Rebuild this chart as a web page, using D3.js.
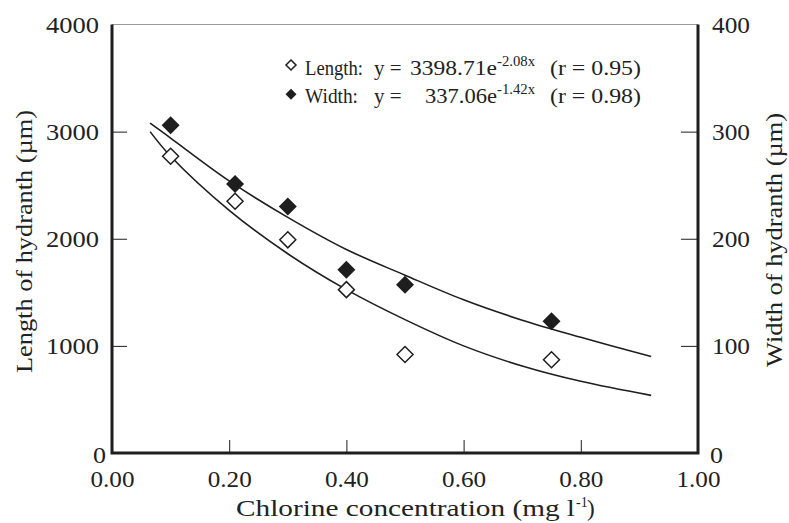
<!DOCTYPE html>
<html><head><meta charset="utf-8">
<script src="https://cdn.jsdelivr.net/npm/d3@7"></script>
</head><body style="margin:0;background:#fff"><svg id="c" width="789" height="523" style="display:block"></svg>
<script>
// ---- data ----
const concentration = [0.10, 0.21, 0.30, 0.40, 0.50, 0.75];
const lengthValues = [2770, 2350, 1990, 1525, 920, 870];   // µm, left axis
const widthValues  = [306, 251, 230, 171, 157, 123];       // µm, right axis
const fitX         = [0.065, 0.10, 0.20, 0.30, 0.40, 0.50, 0.60, 0.70, 0.80, 0.92];
const lengthFit    = [3000, 2770, 2265, 1860, 1525, 1245, 1000, 812, 669, 538];
const widthFit     = [308, 294, 254, 220, 190, 166, 143, 124, 108, 90];
const xTicks = [0, 0.2, 0.4, 0.6, 0.8, 1.0];
const xTickLabels = ["0.00", "0.20", "0.40", "0.60", "0.80", "1.00"];
const leftTicks = [0, 1000, 2000, 3000, 4000];
const rightTicks = [0, 100, 200, 300, 400];
const legendNames = ["Length:", "Width:"];
const legendCoefs = ["3398.71e", "337.06e"];
const legendExps  = ["-2.08x", "-1.42x"];
const legendR     = ["(r = 0.95)", "(r = 0.98)"];

// ---- layout ----
const FONT = "'Liberation Serif', 'Times New Roman', serif";
const svg = d3.select("#c");
const L = 112, R = 698, T = 24.5, B = 453;
const x = d3.scaleLinear().domain([0, 1]).range([L, R]);
const yL = d3.scaleLinear().domain([0, 4000]).range([B, T]);
const yR = d3.scaleLinear().domain([0, 400]).range([B, T]);
const ink = "#1e1e1e", txt = "#222";
const stretch = (sel, w) => sel.attr("textLength", w).attr("lengthAdjust", "spacingAndGlyphs");

// frame
svg.append("line").attr("x1", L).attr("x2", R).attr("y1", T).attr("y2", T).attr("stroke", "#9a9a9a").attr("stroke-width", 1);
svg.append("path").attr("d", `M${L},${T}V${B}H${R}V${T}`).attr("fill", "none").attr("stroke", ink).attr("stroke-width", 3);

// axes via d3 (ticks inward)
const gx = svg.append("g").attr("transform", `translate(0,${B})`)
  .call(d3.axisBottom(x).tickValues(xTicks).tickSize(-13).tickPadding(17).tickFormat((d, i) => xTickLabels[i]));
const gl = svg.append("g").attr("transform", `translate(${L},0)`)
  .call(d3.axisLeft(yL).tickValues(leftTicks).tickSize(-15).tickPadding(13).tickFormat(d3.format("d")));
const gr = svg.append("g").attr("transform", `translate(${R},0)`)
  .call(d3.axisRight(yR).tickValues(rightTicks).tickSize(-17).tickPadding(14).tickFormat(d3.format("d")));
[gx, gl, gr].forEach(g => {
  g.select(".domain").remove();
  g.selectAll(".tick line").attr("stroke", ink).attr("stroke-width", 1);
  g.selectAll(".tick text").attr("font-size", 24).attr("fill", txt).style("font-family", FONT)
    .each(function(d) { const s = this.textContent.length; stretch(d3.select(this), s === 4 ? (this.textContent.includes(".") ? 44 : 53) : s === 3 ? 38 : 13); });
});
gx.selectAll(".tick").filter(d => d === 0 || d === 1).select("line").remove();
gl.selectAll(".tick").filter(d => d === 0 || d === 4000).select("line").remove();
gr.selectAll(".tick").filter(d => d === 0 || d === 400).select("line").remove();
gl.selectAll(".tick").filter(d => d === 0).select("text").attr("x", -6).attr("dy", "0.4em");
gr.selectAll(".tick").filter(d => d === 0).select("text").attr("x", 12).attr("dy", "0.4em");
gx.selectAll(".tick text").attr("dy", "0.71em");

// axis titles
const addText = (xx, yy, s, size, anchor) => svg.append("text").attr("x", xx).attr("y", yy)
  .attr("font-size", size).attr("text-anchor", anchor || "start").attr("fill", txt).style("font-family", FONT).text(s);
stretch(svg.append("text").attr("transform", "translate(32,241.5) rotate(-90)").attr("text-anchor", "middle")
  .attr("font-size", 23).attr("fill", txt).style("font-family", FONT).text("Length of hydranth (µm)"), 263);
stretch(svg.append("text").attr("transform", "translate(782,240) rotate(-90)").attr("text-anchor", "middle")
  .attr("font-size", 23).attr("fill", txt).style("font-family", FONT).text("Width of hydranth (µm)"), 254);
stretch(addText(236, 516, "Chlorine concentration (mg l", 23), 339);
addText(576, 507, "-1", 14);
addText(587, 516, ")", 23);

// fit curves
const lineL = d3.line().x((d, i) => x(fitX[i])).y(d => yL(d)).curve(d3.curveCatmullRom);
const lineR = d3.line().x((d, i) => x(fitX[i])).y(d => yR(d)).curve(d3.curveCatmullRom);
svg.append("path").attr("d", lineL(lengthFit)).attr("fill", "none").attr("stroke", ink).attr("stroke-width", 1.6);
svg.append("path").attr("d", lineR(widthFit)).attr("fill", "none").attr("stroke", ink).attr("stroke-width", 1.6);

// markers
const diamond = s => `M0,${-s}L${s},0L0,${s}L${-s},0Z`;
svg.append("g").selectAll("path").data(widthValues).join("path")
  .attr("transform", (d, i) => `translate(${x(concentration[i])},${yR(d)})`)
  .attr("d", diamond(9)).attr("fill", ink);
svg.append("g").selectAll("path").data(lengthValues).join("path")
  .attr("transform", (d, i) => `translate(${x(concentration[i])},${yL(d)})`)
  .attr("d", diamond(8)).attr("fill", "#fff").attr("stroke", ink).attr("stroke-width", 1.5);

// legend
legendNames.forEach((name, i) => {
  const cy = 65 + i * 29.3, by = 75 + i * 28.3;
  const filled = i === 1;
  svg.append("path").attr("transform", `translate(291,${cy})`).attr("d", diamond(filled ? 5.5 : 5))
    .attr("fill", filled ? ink : "#fff").attr("stroke", ink).attr("stroke-width", filled ? 0 : 1.5);
  stretch(addText(305, by, name, 21), i === 0 ? 58 : 53);
  addText(374, by, "y =", 21);
  stretch(addText(497, by, legendCoefs[i], 21, "end"), i === 0 ? 87 : 72);
  stretch(addText(497, by - 9, legendExps[i], 14), 38);
  stretch(addText(550, by, legendR[i], 21), 91);
});
</script></body></html>
